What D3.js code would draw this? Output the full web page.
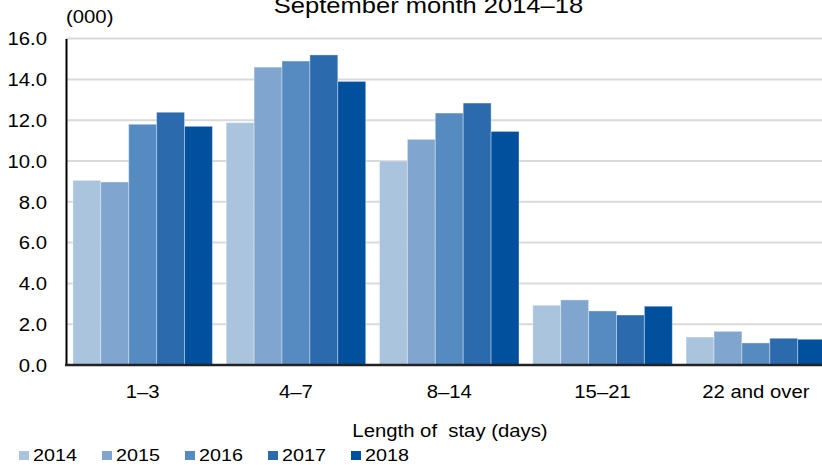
<!DOCTYPE html>
<html>
<head>
<meta charset="utf-8">
<script src="https://cdn.jsdelivr.net/npm/d3@7"></script>
<style>
html,body{margin:0;padding:0;background:#fff;}
svg{display:block;font-family:"Liberation Sans",Arial,sans-serif;}
text{white-space:pre;}
</style>
</head>
<body>
<svg id="chart" width="822" height="465"></svg>
<script>
const categories = ["1–3", "4–7", "8–14", "15–21", "22 and over"];
const years = ["2014", "2015", "2016", "2017", "2018"];
const values2014 = [9.05, 11.88, 10.0, 2.93, 1.37];
const values2015 = [8.97, 14.6, 11.06, 3.19, 1.65];
const values2016 = [11.8, 14.9, 12.35, 2.65, 1.08];
const values2017 = [12.39, 15.2, 12.84, 2.45, 1.31];
const values2018 = [11.7, 13.9, 11.45, 2.88, 1.26];
const yTicks = [0, 2, 4, 6, 8, 10, 12, 14, 16];
const colors = ["#abc4dd", "#80a6cf", "#558bc0", "#2c6aae", "#00509e"];
const title = "September month 2014–18";
const unitLabel = "(000)";
const xTitle = "Length of  stay (days)";

const series = [values2014, values2015, values2016, values2017, values2018];
const svg = d3.select("#chart");
const STRETCH = 1.16;

function stretch(sel) {
  sel.each(function() {
    const w = this.getComputedTextLength();
    d3.select(this).attr("textLength", w * STRETCH).attr("lengthAdjust", "spacingAndGlyphs");
  });
  return sel;
}

const x0 = d3.scaleBand().domain(categories).range([66, 832.5]).paddingInner(0.09).paddingOuter(0.045);
const x1 = d3.scaleBand().domain(years).range([0, x0.bandwidth()]);
const y = d3.scaleLinear().domain([0, 16]).range([365, 38.6]);

// gridlines
svg.append("g").selectAll("line").data(yTicks.filter(d => d > 0)).join("line")
  .attr("x1", 66).attr("x2", 822)
  .attr("y1", d => y(d)).attr("y2", d => y(d))
  .attr("stroke", "#d9d9d9").attr("stroke-width", 2);

// bars
const groups = svg.append("g").selectAll("g").data(categories).join("g")
  .attr("transform", d => `translate(${x0(d)},0)`);
groups.selectAll("rect")
  .data((c, ci) => years.map((yr, si) => ({yr, si, v: series[si][ci]})))
  .join("rect")
  .attr("x", d => x1(d.yr))
  .attr("width", x1.bandwidth())
  .attr("y", d => y(d.v))
  .attr("height", d => y(0) - y(d.v))
  .attr("fill", d => colors[d.si])
  .attr("stroke", "#ffffff").attr("stroke-opacity", 0.35).attr("stroke-width", 1);

// y axis
const yAxis = svg.append("g").attr("transform", "translate(66,0)")
  .call(d3.axisLeft(y).tickValues(yTicks).tickFormat(d3.format(".1f")).tickSize(0).tickPadding(19));
yAxis.select(".domain").attr("stroke", "#000").attr("stroke-width", 2);
yAxis.selectAll("text").attr("font-size", 17.5).attr("fill", "#000")
  .attr("font-family", "Liberation Sans, Arial, sans-serif").attr("dy", "0.36em").call(stretch);

// x axis
const xAxis = svg.append("g").attr("transform", "translate(0,365)")
  .call(d3.axisBottom(x0).tickSize(0).tickPadding(0));
xAxis.select(".domain").remove();
svg.append("line").attr("x1", 65).attr("x2", 822).attr("y1", 365).attr("y2", 365)
  .attr("stroke", "#222").attr("stroke-width", 2.5);
xAxis.selectAll("text").attr("font-size", 17.5).attr("fill", "#000")
  .attr("font-family", "Liberation Sans, Arial, sans-serif")
  .attr("dy", null).attr("y", 33).call(stretch);

// title (cut at the top edge, as in the reference)
svg.append("text").attr("x", 428.5).attr("y", 13).attr("text-anchor", "middle")
  .attr("font-size", 22).attr("fill", "#000").text(title).call(stretch);

// unit label
svg.append("text").attr("x", 66).attr("y", 23).attr("font-size", 17.5).attr("fill", "#000")
  .text(unitLabel).call(stretch);

// x title
svg.append("text").attr("x", 450).attr("y", 437).attr("text-anchor", "middle")
  .attr("font-size", 17.5).attr("fill", "#000").text(xTitle).call(stretch);

// legend
const leg = svg.append("g").selectAll("g").data(years).join("g")
  .attr("transform", (d, i) => `translate(${19 + i * 83},0)`);
leg.append("rect").attr("x", 0).attr("y", 451).attr("width", 10).attr("height", 9)
  .attr("fill", (d, i) => colors[i]);
leg.append("text").attr("x", 14).attr("y", 461).attr("font-size", 17).attr("fill", "#000")
  .text(d => d).call(stretch);
</script>
</body>
</html>
